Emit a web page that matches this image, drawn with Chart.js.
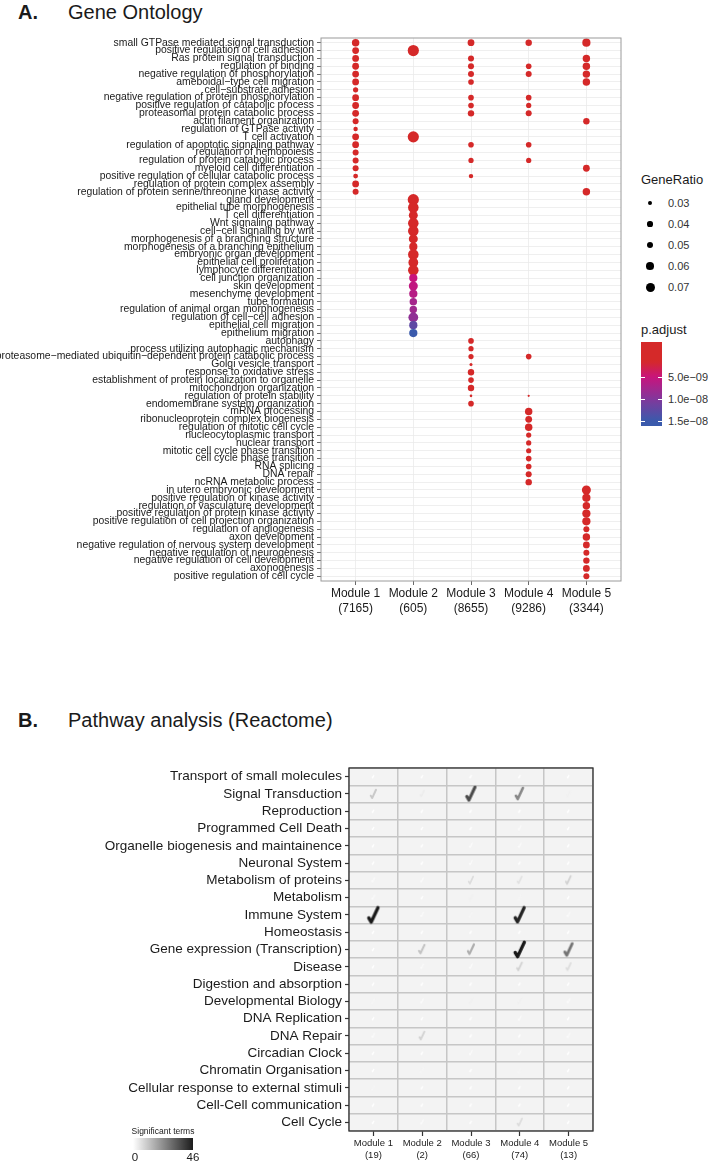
<!DOCTYPE html>
<html>
<head>
<meta charset="utf-8">
<script src="https://cdn.jsdelivr.net/npm/chart.js@4.4.1/dist/chart.umd.min.js"></script>
<style>
  body { margin: 0; width: 708px; height: 1164px; position: relative; background: #fff; overflow: hidden;
         font-family: "Liberation Sans", Arial, sans-serif; color: #1a1a1a; }
  .abs { position: absolute; white-space: nowrap; }
  .ttl { font-size: 20px; line-height: 24px; }
  .lg { font-size: 13px; line-height: 16px; }
  .lt { font-size: 11px; line-height: 14px; color: #333; }
  .dot { position: absolute; background: #000; border-radius: 50%; }
  .wt { position: absolute; background: #fff; height: 1px; width: 4px; }
</style>
</head>
<body>
<div class="abs ttl" style="left:18px;top:0px;font-weight:bold">A.</div>
<div class="abs ttl" style="left:68px;top:0px">Gene Ontology</div>
<div class="abs ttl" style="left:18px;top:708px;font-weight:bold">B.</div>
<div class="abs ttl" style="left:68px;top:708px">Pathway analysis (Reactome)</div>

<canvas id="go" class="abs" style="left:0;top:0" width="640" height="620"></canvas>
<canvas id="ra" class="abs" style="left:0;top:740px" width="708" height="424"></canvas>

<div id="legendA"></div>
<div id="legendB"></div>

<script>
// ---------- Panel A data (Gene Ontology) ----------
const terms = [
  'small GTPase mediated signal transduction',
  'positive regulation of cell adhesion',
  'Ras protein signal transduction',
  'regulation of binding',
  'negative regulation of phosphorylation',
  'ameboidal\u2212type cell migration',
  'cell\u2212substrate adhesion',
  'negative regulation of protein phosphorylation',
  'positive regulation of catabolic process',
  'proteasomal protein catabolic process',
  'actin filament organization',
  'regulation of GTPase activity',
  'T cell activation',
  'regulation of apoptotic signaling pathway',
  'regulation of hemopoiesis',
  'regulation of protein catabolic process',
  'myeloid cell differentiation',
  'positive regulation of cellular catabolic process',
  'regulation of protein complex assembly',
  'regulation of protein serine/threonine kinase activity',
  'gland development',
  'epithelial tube morphogenesis',
  'T cell differentiation',
  'Wnt signaling pathway',
  'cell\u2212cell signaling by wnt',
  'morphogenesis of a branching structure',
  'morphogenesis of a branching epithelium',
  'embryonic organ development',
  'epithelial cell proliferation',
  'lymphocyte differentiation',
  'cell junction organization',
  'skin development',
  'mesenchyme development',
  'tube formation',
  'regulation of animal organ morphogenesis',
  'regulation of cell\u2212cell adhesion',
  'epithelial cell migration',
  'epithelium migration',
  'autophagy',
  'process utilizing autophagic mechanism',
  'proteasome\u2212mediated ubiquitin\u2212dependent protein catabolic process',
  'Golgi vesicle transport',
  'response to oxidative stress',
  'establishment of protein localization to organelle',
  'mitochondrion organization',
  'regulation of protein stability',
  'endomembrane system organization',
  'mRNA processing',
  'ribonucleoprotein complex biogenesis',
  'regulation of mitotic cell cycle',
  'nucleocytoplasmic transport',
  'nuclear transport',
  'mitotic cell cycle phase transition',
  'cell cycle phase transition',
  'RNA splicing',
  'DNA repair',
  'ncRNA metabolic process',
  'in utero embryonic development',
  'positive regulation of kinase activity',
  'regulation of vasculature development',
  'positive regulation of protein kinase activity',
  'positive regulation of cell projection organization',
  'regulation of angiogenesis',
  'axon development',
  'negative regulation of nervous system development',
  'negative regulation of neurogenesis',
  'negative regulation of cell development',
  'axonogenesis',
  'positive regulation of cell cycle'
];
const modules = ['Module 1', 'Module 2', 'Module 3', 'Module 4', 'Module 5'];
const moduleGenes = [7165, 605, 8655, 9286, 3344];

// [term row, GeneRatio, p.adjust]
const m1Hits = [[1,.058,2e-10],[2,.053,2e-10],[3,.053,3e-10],[4,.053,3e-10],[5,.053,2e-10],[6,.053,3e-10],
  [7,.041,4e-10],[8,.053,3e-10],[9,.053,3e-10],[10,.053,3e-10],[11,.047,4e-10],[12,.035,5e-10],[13,.053,3e-10],
  [14,.053,3e-10],[15,.047,4e-10],[16,.047,4e-10],[17,.047,4e-10],[18,.038,5e-10],[19,.053,4e-10],[20,.047,5e-10]];
const m2Hits = [[2,.087,3e-10],[13,.087,4e-10],[21,.087,1e-12],[22,.082,2e-12],[23,.070,5e-11],[24,.082,1e-11],
  [25,.082,1e-11],[26,.070,8e-11],[27,.064,2e-10],[28,.082,3e-10],[29,.076,5e-10],[30,.082,8e-10],[31,.064,5.0e-9],
  [32,.070,5.5e-9],[33,.064,6.3e-9],[34,.058,7.5e-9],[35,.058,8.0e-9],[36,.076,9.0e-9],[37,.064,1.25e-8],[38,.064,1.5e-8]];
const m3Hits = [[1,.053,3e-10],[3,.047,4e-10],[4,.047,4e-10],[5,.047,4e-10],[6,.044,5e-10],[8,.044,5e-10],[9,.044,5e-10],
  [10,.050,4e-10],[14,.044,5e-10],[16,.041,6e-10],[18,.035,7e-10],[39,.044,3e-10],[40,.041,3e-10],[41,.041,4e-10],
  [42,.024,8e-10],[43,.050,4e-10],[44,.044,5e-10],[45,.050,4e-10],[46,.021,9e-10],[47,.044,5e-10]];
const m4Hits = [[1,.050,4e-10],[4,.044,5e-10],[5,.047,5e-10],[8,.044,5e-10],[9,.041,6e-10],[10,.047,5e-10],[14,.044,5e-10],
  [16,.041,6e-10],[41,.044,5e-10],[46,.018,9e-10],[48,.058,1e-11],[49,.053,2e-11],[50,.058,2e-11],[51,.041,4e-10],
  [52,.041,4e-10],[53,.041,4e-10],[54,.044,4e-10],[55,.044,4e-10],[56,.047,3e-10],[57,.050,3e-10]];
const m5Hits = [[1,.064,2e-10],[3,.058,3e-10],[4,.058,3e-10],[5,.058,3e-10],[6,.058,3e-10],[11,.050,5e-10],[17,.053,4e-10],
  [20,.058,3e-10],[58,.070,1e-11],[59,.064,2e-11],[60,.058,3e-11],[61,.064,2e-11],[62,.064,2e-11],[63,.047,4e-10],
  [64,.058,2e-10],[65,.053,3e-10],[66,.047,4e-10],[67,.050,4e-10],[68,.053,3e-10],[69,.047,4e-10]];
const ratioBreaks = [0.03, 0.04, 0.05, 0.06, 0.07];
const padjBreaks = ['5.0e\u221209', '1.0e\u221208', '1.5e\u221208'];

// ---------- Panel B data (Reactome) ----------
const pathways = ['Transport of small molecules', 'Signal Transduction', 'Reproduction', 'Programmed Cell Death',
  'Organelle biogenesis and maintainence', 'Neuronal System', 'Metabolism of proteins', 'Metabolism',
  'Immune System', 'Homeostasis', 'Gene expression (Transcription)', 'Disease', 'Digestion and absorption',
  'Developmental Biology', 'DNA Replication', 'DNA Repair', 'Circadian Clock', 'Chromatin Organisation',
  'Cellular response to external stimuli', 'Cell-Cell communication', 'Cell Cycle'];
const pathwayModuleTerms = [19, 2, 66, 74, 13];
const sigM1 = [0,11,0,0,0,0,1,1,46,0,0,0,0,2,0,1,0,0,2,0,0];
const sigM2 = [0,4,0,0,0,0,1,0,1,0,12,1,0,1,0,9,0,2,0,0,1];
const sigM3 = [0,36,0,0,1,1,7,3,2,0,16,1,0,3,0,0,1,0,0,0,0];
const sigM4 = [0,24,0,1,1,0,6,2,44,0,46,9,0,3,1,0,1,2,0,0,7];
const sigM5 = [0,3,0,0,0,0,9,0,1,0,28,7,0,1,0,1,0,0,0,0,0];
const sigMax = 46;

// ---------- helpers ----------
const FONT = '"Liberation Sans", Arial, sans-serif';
Chart.defaults.font.family = FONT;
Chart.defaults.animation = false;

const ratioRadius = g => Math.max(1, 1.9 + (g - 0.03) * 65);
const pStops = [[1.5e-9,[213,41,41]],[5e-9,[200,20,125]],[1e-8,[130,55,155]],[1.5e-8,[58,90,172]]];
function padjColor(p) {
  if (p <= pStops[0][0]) return 'rgb(' + pStops[0][1] + ')';
  for (let i = 1; i < pStops.length; i++) {
    if (p <= pStops[i][0]) {
      const [p0, c0] = pStops[i - 1], [p1, c1] = pStops[i];
      const t = (p - p0) / (p1 - p0);
      return 'rgb(' + c0.map((c, k) => Math.round(c + (c1[k] - c) * t)).join(',') + ')';
    }
  }
  return 'rgb(' + pStops[pStops.length - 1][1] + ')';
}

const framePlugin = {
  id: 'frame',
  beforeDraw(chart, args, o) {
    if (!o.fill) return;
    const a = chart.chartArea, c = chart.ctx;
    c.save(); c.fillStyle = o.fill; c.fillRect(a.left, a.top, a.width, a.height); c.restore();
  },
  afterDatasetsDraw(chart, args, o) {
    const a = chart.chartArea, c = chart.ctx;
    c.save(); c.strokeStyle = o.color; c.lineWidth = o.width;
    c.strokeRect(a.left, a.top, a.width, a.height); c.restore();
  }
};

// ---------- Chart A ----------
const goPoints = [m1Hits, m2Hits, m3Hits, m4Hits, m5Hits].flatMap((hits, m) =>
  hits.map(([row, ratio, padj]) => ({ x: m + 1, y: row, ratio, padj })));

new Chart(document.getElementById('go'), {
  type: 'scatter',
  data: { datasets: [{
    data: goPoints,
    pointRadius: c => ratioRadius(c.raw.ratio),
    backgroundColor: c => padjColor(c.raw.padj),
    borderWidth: 0
  }] },
  options: {
    responsive: false,
    layout: { padding: { top: 38, right: 19, left: 0, bottom: 0 } },
    plugins: { legend: { display: false }, tooltip: { enabled: false },
               frame: { color: '#9a9a9a', width: 1 } },
    scales: {
      x: {
        type: 'linear', min: 0.4, max: 5.6,
        afterBuildTicks: ax => { ax.ticks = modules.map((m, i) => ({ value: i + 1 })); },
        afterFit: s => { s.height = 39; },
        ticks: { callback: v => [modules[v - 1], '(' + moduleGenes[v - 1] + ')'], autoSkip: false, maxRotation: 0,
                 color: '#1a1a1a', padding: 1, font: { size: 12, lineHeight: 1.25 } },
        grid: { color: '#ebebeb', lineWidth: 0.8, tickColor: '#444', tickLength: 4 },
        border: { display: false }
      },
      y: {
        type: 'linear', reverse: true, min: 0.4, max: 69.6,
        afterBuildTicks: ax => { ax.ticks = terms.map((t, i) => ({ value: i + 1 })); },
        afterFit: s => { s.width = 321; },
        ticks: { callback: v => terms[v - 1], autoSkip: false, color: '#1a1a1a', padding: 3,
                 font: { size: 10.4, lineHeight: 1 } },
        grid: { color: '#ebebeb', lineWidth: 0.8, tickColor: '#444', tickLength: 4 },
        border: { display: false }
      }
    }
  },
  plugins: [framePlugin]
});

// legend A
(function () {
  const box = document.getElementById('legendA');
  let html = '<div class="abs lg" style="left:641px;top:172px">GeneRatio</div>';
  const ys = [203, 224, 245, 266, 287];
  ratioBreaks.forEach((g, i) => {
    const r = ratioRadius(g);
    html += '<div class="dot" style="left:' + (650 - r) + 'px;top:' + (ys[i] - r) + 'px;width:' + (2 * r) + 'px;height:' + (2 * r) + 'px"></div>';
    html += '<div class="abs lt" style="left:668px;top:' + (ys[i] - 7) + 'px">' + g.toFixed(2) + '</div>';
  });
  html += '<div class="abs lg" style="left:641px;top:322px">p.adjust</div>';
  // colour bar, 342..426 px; ticks at 377 / 399 / 421
  const stops = [];
  for (let y = 342; y <= 426; y += 3) {
    const p = 5e-9 + (y - 377) * (5e-9 / 22);
    stops.push(padjColor(p) + ' ' + ((y - 342) / 84 * 100).toFixed(1) + '%');
  }
  html += '<div class="abs" style="left:641px;top:342px;width:21px;height:84px;background:linear-gradient(to bottom,' + stops.join(',') + ')"></div>';
  [377, 399, 421].forEach((y, i) => {
    html += '<div class="wt" style="left:641px;top:' + y + 'px"></div><div class="wt" style="left:658px;top:' + y + 'px"></div>';
    html += '<div class="abs lt" style="left:668px;top:' + (y - 7) + 'px">' + padjBreaks[i] + '</div>';
  });
  box.innerHTML = html;
})();

// ---------- Chart B ----------
const checkCache = {};
function checkMark(v) {
  if (checkCache[v]) return checkCache[v];
  const t = Math.min(1, v / sigMax);
  const H = 3 + 14 * Math.sqrt(t);
  const W = H * 0.7;
  const cv = document.createElement('canvas');
  cv.width = Math.ceil(W) + 4; cv.height = Math.ceil(H) + 4;
  const c = cv.getContext('2d');
  const g = Math.round(255 - 230 * t);
  c.strokeStyle = 'rgb(' + g + ',' + g + ',' + g + ')';
  c.lineWidth = Math.max(1.3, H * 0.2);
  c.lineCap = 'round'; c.lineJoin = 'round';
  const ox = 2, oy = 2;
  c.beginPath();
  c.moveTo(ox + W * 0.12, oy + H * 0.68);
  c.lineTo(ox + W * 0.32, oy + H * 0.92);
  c.lineTo(ox + W * 0.88, oy + H * 0.08);
  c.stroke();
  checkCache[v] = cv;
  return cv;
}

const sigPoints = [sigM1, sigM2, sigM3, sigM4, sigM5].flatMap((vals, m) =>
  vals.map((v, r) => ({ x: m + 1, y: r, v })));

new Chart(document.getElementById('ra'), {
  type: 'scatter',
  data: { datasets: [{
    data: sigPoints,
    pointRadius: 5,
    pointStyle: c => checkMark(c.raw.v)
  }] },
  options: {
    responsive: false,
    layout: { padding: { top: 28, right: 115, left: 0, bottom: 0 } },
    plugins: { legend: { display: false }, tooltip: { enabled: false },
               frame: { fill: '#f3f3f3', color: '#333', width: 1.3 } },
    scales: {
      x: {
        type: 'linear', min: 0.5, max: 5.5,
        afterBuildTicks: ax => { ax.ticks = modules.map((m, i) => ({ value: i + 1 })); },
        afterFit: s => { s.height = 33; },
        ticks: { callback: v => [modules[v - 1], '(' + pathwayModuleTerms[v - 1] + ')'], autoSkip: false,
                 maxRotation: 0, color: '#222', padding: 2, font: { size: 9.5, lineHeight: 1.2 } },
        grid: { drawOnChartArea: false, tickColor: '#333', tickLength: 5, tickWidth: 1.2 },
        border: { display: false }
      },
      xGrid: {
        type: 'linear', position: 'bottom', min: 0.5, max: 5.5,
        afterBuildTicks: ax => { ax.ticks = [0, 1, 2, 3, 4, 5].map(i => ({ value: i + 0.5 })); },
        afterFit: s => { s.height = 0; },
        ticks: { display: false },
        grid: { color: '#c6c6c6', lineWidth: 1.5, drawTicks: false },
        border: { display: false }
      },
      y: {
        type: 'linear', reverse: true, min: -0.5, max: 20.5,
        afterBuildTicks: ax => { ax.ticks = pathways.map((p, i) => ({ value: i })); },
        afterFit: s => { s.width = 349; },
        ticks: { callback: v => pathways[v], autoSkip: false, color: '#1a1a1a', padding: 3,
                 font: { size: 13.5, lineHeight: 1 } },
        grid: { drawOnChartArea: false, tickColor: '#333', tickLength: 4, tickWidth: 1.2 },
        border: { display: false }
      },
      yGrid: {
        type: 'linear', position: 'left', reverse: true, min: -0.5, max: 20.5,
        afterBuildTicks: ax => { ax.ticks = pathways.concat(['']).map((p, i) => ({ value: i - 0.5 })); },
        afterFit: s => { s.width = 0; },
        ticks: { display: false },
        grid: { color: '#c6c6c6', lineWidth: 1.5, drawTicks: false },
        border: { display: false }
      }
    }
  },
  plugins: [framePlugin]
});

// legend B
document.getElementById('legendB').innerHTML =
  '<div class="abs" style="left:127px;top:1126px;font-size:8.5px;line-height:11px;width:72px;text-align:center">Significant terms</div>' +
  '<div class="abs" style="left:133px;top:1138px;width:60px;height:12px;background:linear-gradient(to right,#ffffff,#1c1c1c)"></div>' +
  '<div class="abs" style="left:129px;top:1150px;font-size:11.5px;line-height:14px;width:12px;text-align:center">0</div>' +
  '<div class="abs" style="left:183px;top:1150px;font-size:11.5px;line-height:14px;width:20px;text-align:center">' + sigMax + '</div>';
</script>
</body>
</html>
